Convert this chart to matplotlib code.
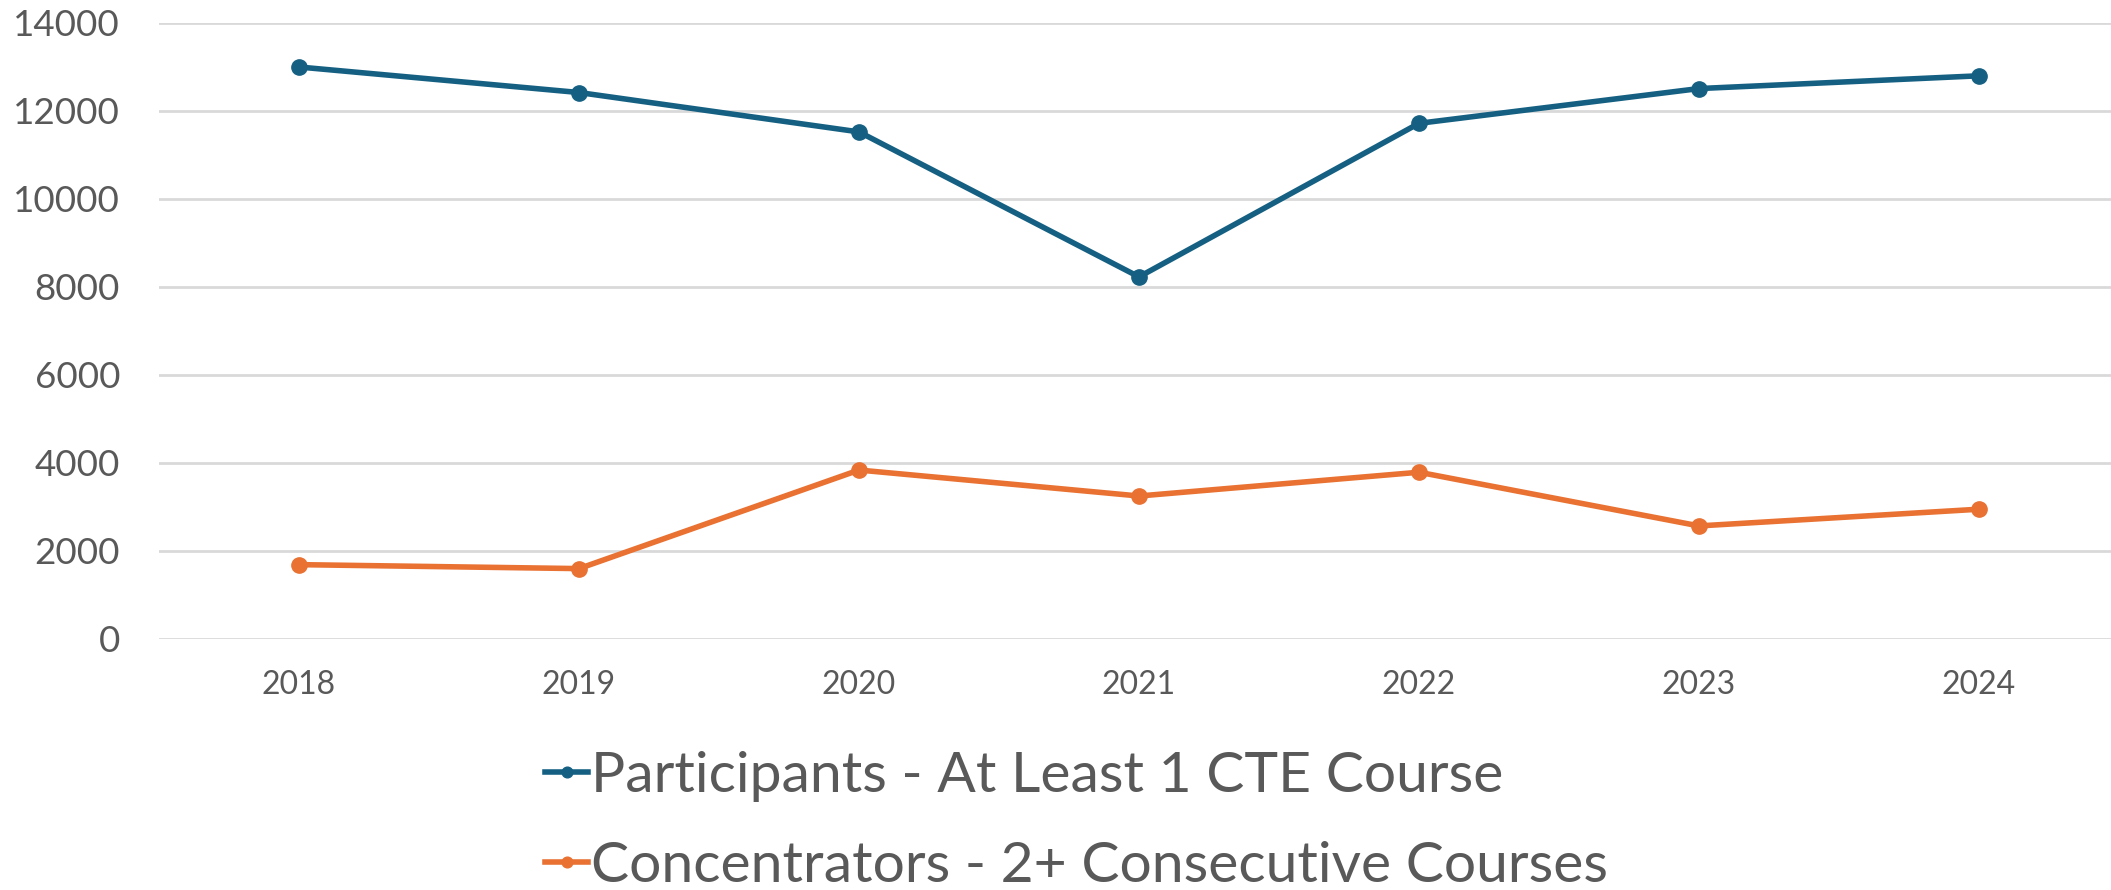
import matplotlib.pyplot as plt

years = ["2018", "2019", "2020", "2021", "2022", "2023", "2024"]
participants = [13000, 12420, 11525, 8230, 11720, 12510, 12800]
concentrators = [1690, 1600, 3840, 3250, 3790, 2570, 2950]
labels = ["Participants - At Least 1 CTE Course", "Concentrators - 2+ Consecutive Courses"]

plt.rcParams['font.family'] = ['Lato', 'DejaVu Sans']
txt = '#595959'

fig = plt.figure(figsize=(21.11, 8.9), dpi=100)
ax = fig.add_axes([159 / 2111, 251 / 890, 1960 / 2111, 616 / 890])

x = range(len(years))
ax.plot(x, participants, '-o', color='#156082', lw=4, ms=11, label=labels[0], zorder=3)
ax.plot(x, concentrators, '-o', color='#E97132', lw=4, ms=11, label=labels[1], zorder=3)

ax.set_xlim(-0.5, 6.5)
ax.set_ylim(0, 14000)
ax.set_yticks(range(0, 14001, 2000))
ax.set_xticks(list(x))
ax.set_xticklabels(years)
ax.yaxis.grid(True, color='#D9D9D9', lw=2)
ax.set_axisbelow(True)
for s in ax.spines.values():
    s.set_visible(False)
ax.tick_params(axis='y', length=0, labelsize=26.5, labelcolor=txt, pad=28)
ax.tick_params(axis='x', length=0, labelsize=23, labelcolor=txt, pad=22)

leg = fig.legend(loc='center', bbox_to_anchor=(0.51, 0.077), frameon=False,
                 fontsize=41, handlelength=0.75, handletextpad=0.05,
                 labelspacing=0.68, markerscale=0.7, borderpad=0)
for t in leg.get_texts():
    t.set_color(txt)

fig.savefig('out.png', dpi=100)
